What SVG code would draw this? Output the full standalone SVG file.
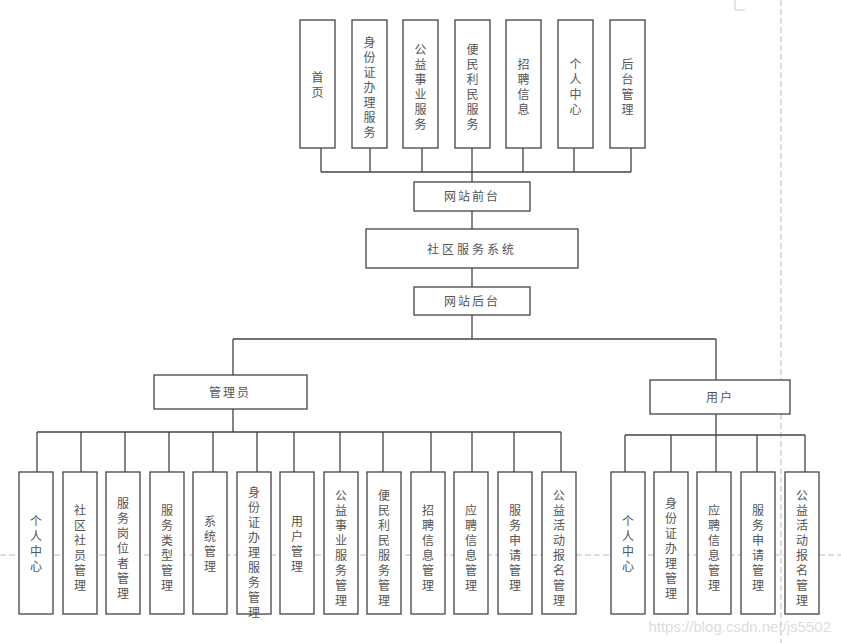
<svg xmlns="http://www.w3.org/2000/svg" width="841" height="643" viewBox="0 0 841 643">
<style>
rect{fill:#fff;stroke:#444;stroke-width:1.3}
.c{fill:none;stroke:#444;stroke-width:1.3}
text{font-family:"Noto Sans CJK SC","Liberation Sans",sans-serif;fill:#555;font-size:12px;text-anchor:middle}
.g{stroke:#bbb;stroke-width:1;stroke-dasharray:6 3;fill:none}
</style>
<rect x="0" y="0" width="841" height="643" style="stroke:none"/>
<path class="g" d="M0 555H841M781 0V643"/>
<path d="M735 0V10M745 10H735" style="stroke:#ccc;fill:none"/>
<g id="connectors">
<path class="c" d="M321 148V172M370 148V172M422 148V172M472 148V182M523 148V172M574 148V172M631 148V172M321 172H631"/>
<path class="c" d="M472 211V229M472 268V287M472 315V339M233 339H716M233 339V375M716 339V380"/>
<path class="c" d="M233 409V432M37 432H561M37 432V472M81 432V472M125 432V472M169 432V472M213 432V472M257 432V472M294 432V472M340 432V472M383 432V472M431 432V472M472 432V472M514 432V472M561 432V472"/>
<path class="c" d="M716 414V472M625 435H805M625 435V472M671 435V472M757 435V472M805 435V472"/>
</g>
<g id="top">
<g id="t1"><rect x="300" y="20" width="35" height="128"/><text x="317.5" y="84" font-size="12"><tspan x="317.5" dy="-2">首</tspan><tspan x="317.5" dy="15">页</tspan></text></g>
<g id="t2"><rect x="352" y="20" width="35" height="128"/><text x="369.5" y="47"><tspan x="369.5">身</tspan><tspan x="369.5" dy="15">份</tspan><tspan x="369.5" dy="15">证</tspan><tspan x="369.5" dy="15">办</tspan><tspan x="369.5" dy="15">理</tspan><tspan x="369.5" dy="15">服</tspan><tspan x="369.5" dy="15">务</tspan></text></g>
<g id="t3"><rect x="403" y="20" width="35" height="128"/><text x="420.5" y="54"><tspan x="420.5">公</tspan><tspan x="420.5" dy="15">益</tspan><tspan x="420.5" dy="15">事</tspan><tspan x="420.5" dy="15">业</tspan><tspan x="420.5" dy="15">服</tspan><tspan x="420.5" dy="15">务</tspan></text></g>
<g id="t4"><rect x="455" y="20" width="35" height="128"/><text x="472.5" y="54"><tspan x="472.5">便</tspan><tspan x="472.5" dy="15">民</tspan><tspan x="472.5" dy="15">利</tspan><tspan x="472.5" dy="15">民</tspan><tspan x="472.5" dy="15">服</tspan><tspan x="472.5" dy="15">务</tspan></text></g>
<g id="t5"><rect x="506" y="20" width="35" height="128"/><text x="523.5" y="69"><tspan x="523.5">招</tspan><tspan x="523.5" dy="15">聘</tspan><tspan x="523.5" dy="15">信</tspan><tspan x="523.5" dy="15">息</tspan></text></g>
<g id="t6"><rect x="558" y="20" width="35" height="128"/><text x="575.5" y="69"><tspan x="575.5">个</tspan><tspan x="575.5" dy="15">人</tspan><tspan x="575.5" dy="15">中</tspan><tspan x="575.5" dy="15">心</tspan></text></g>
<g id="t7"><rect x="610" y="20" width="35" height="128"/><text x="627.5" y="69"><tspan x="627.5">后</tspan><tspan x="627.5" dy="15">台</tspan><tspan x="627.5" dy="15">管</tspan><tspan x="627.5" dy="15">理</tspan></text></g>
</g>
<g id="front"><rect x="414" y="182" width="116" height="29"/><text x="472" y="201" letter-spacing="2">网站前台</text></g>
<g id="system"><rect x="366" y="229" width="212" height="39"/><text x="472" y="254" font-size="16" letter-spacing="3">社区服务系统</text></g>
<g id="back"><rect x="414" y="287" width="116" height="28"/><text x="472" y="306" font-size="13" letter-spacing="2">网站后台</text></g>
<g id="admin"><rect x="154" y="375" width="153" height="34"/><text x="230" y="397" letter-spacing="2">管理员</text></g>
<g id="user"><rect x="650" y="380" width="140" height="34"/><text x="720" y="402" letter-spacing="2">用户</text></g>
<g id="admin-children">
<g id="a1"><rect x="19" y="472" width="34" height="142"/><text x="36" y="526"><tspan x="36">个</tspan><tspan x="36" dy="15">人</tspan><tspan x="36" dy="15">中</tspan><tspan x="36" dy="15">心</tspan></text></g>
<g id="a2"><rect x="63" y="472" width="34" height="142"/><text x="80" y="515"><tspan x="80">社</tspan><tspan x="80" dy="15">区</tspan><tspan x="80" dy="15">社</tspan><tspan x="80" dy="15">员</tspan><tspan x="80" dy="15">管</tspan><tspan x="80" dy="15">理</tspan></text></g>
<g id="a3"><rect x="106" y="472" width="34" height="142"/><text x="123" y="508"><tspan x="123">服</tspan><tspan x="123" dy="15">务</tspan><tspan x="123" dy="15">岗</tspan><tspan x="123" dy="15">位</tspan><tspan x="123" dy="15">者</tspan><tspan x="123" dy="15">管</tspan><tspan x="123" dy="15">理</tspan></text></g>
<g id="a4"><rect x="150" y="472" width="34" height="142"/><text x="167" y="515"><tspan x="167">服</tspan><tspan x="167" dy="15">务</tspan><tspan x="167" dy="15">类</tspan><tspan x="167" dy="15">型</tspan><tspan x="167" dy="15">管</tspan><tspan x="167" dy="15">理</tspan></text></g>
<g id="a5"><rect x="193" y="472" width="34" height="142"/><text x="210" y="526"><tspan x="210">系</tspan><tspan x="210" dy="15">统</tspan><tspan x="210" dy="15">管</tspan><tspan x="210" dy="15">理</tspan></text></g>
<g id="a6"><rect x="237" y="472" width="34" height="142"/><text x="254" y="497"><tspan x="254">身</tspan><tspan x="254" dy="15">份</tspan><tspan x="254" dy="15">证</tspan><tspan x="254" dy="15">办</tspan><tspan x="254" dy="15">理</tspan><tspan x="254" dy="15">服</tspan><tspan x="254" dy="15">务</tspan><tspan x="254" dy="15">管</tspan><tspan x="254" dy="15">理</tspan></text></g>
<g id="a7"><rect x="280" y="472" width="34" height="142"/><text x="297" y="526"><tspan x="297">用</tspan><tspan x="297" dy="15">户</tspan><tspan x="297" dy="15">管</tspan><tspan x="297" dy="15">理</tspan></text></g>
<g id="a8"><rect x="324" y="472" width="34" height="142"/><text x="341" y="500"><tspan x="341">公</tspan><tspan x="341" dy="15">益</tspan><tspan x="341" dy="15">事</tspan><tspan x="341" dy="15">业</tspan><tspan x="341" dy="15">服</tspan><tspan x="341" dy="15">务</tspan><tspan x="341" dy="15">管</tspan><tspan x="341" dy="15">理</tspan></text></g>
<g id="a9"><rect x="367" y="472" width="34" height="142"/><text x="384" y="500"><tspan x="384">便</tspan><tspan x="384" dy="15">民</tspan><tspan x="384" dy="15">利</tspan><tspan x="384" dy="15">民</tspan><tspan x="384" dy="15">服</tspan><tspan x="384" dy="15">务</tspan><tspan x="384" dy="15">管</tspan><tspan x="384" dy="15">理</tspan></text></g>
<g id="a10"><rect x="411" y="472" width="34" height="142"/><text x="428" y="515"><tspan x="428">招</tspan><tspan x="428" dy="15">聘</tspan><tspan x="428" dy="15">信</tspan><tspan x="428" dy="15">息</tspan><tspan x="428" dy="15">管</tspan><tspan x="428" dy="15">理</tspan></text></g>
<g id="a11"><rect x="454" y="472" width="34" height="142"/><text x="471" y="515"><tspan x="471">应</tspan><tspan x="471" dy="15">聘</tspan><tspan x="471" dy="15">信</tspan><tspan x="471" dy="15">息</tspan><tspan x="471" dy="15">管</tspan><tspan x="471" dy="15">理</tspan></text></g>
<g id="a12"><rect x="498" y="472" width="34" height="142"/><text x="515" y="515"><tspan x="515">服</tspan><tspan x="515" dy="15">务</tspan><tspan x="515" dy="15">申</tspan><tspan x="515" dy="15">请</tspan><tspan x="515" dy="15">管</tspan><tspan x="515" dy="15">理</tspan></text></g>
<g id="a13"><rect x="542" y="472" width="34" height="142"/><text x="559" y="500"><tspan x="559">公</tspan><tspan x="559" dy="15">益</tspan><tspan x="559" dy="15">活</tspan><tspan x="559" dy="15">动</tspan><tspan x="559" dy="15">报</tspan><tspan x="559" dy="15">名</tspan><tspan x="559" dy="15">管</tspan><tspan x="559" dy="15">理</tspan></text></g>
</g>
<g id="user-children">
<g id="u1"><rect x="611" y="472" width="34" height="142"/><text x="628" y="526"><tspan x="628">个</tspan><tspan x="628" dy="15">人</tspan><tspan x="628" dy="15">中</tspan><tspan x="628" dy="15">心</tspan></text></g>
<g id="u2"><rect x="654" y="472" width="34" height="142"/><text x="671" y="508"><tspan x="671">身</tspan><tspan x="671" dy="15">份</tspan><tspan x="671" dy="15">证</tspan><tspan x="671" dy="15">办</tspan><tspan x="671" dy="15">理</tspan><tspan x="671" dy="15">管</tspan><tspan x="671" dy="15">理</tspan></text></g>
<g id="u3"><rect x="697" y="472" width="34" height="142"/><text x="714" y="515"><tspan x="714">应</tspan><tspan x="714" dy="15">聘</tspan><tspan x="714" dy="15">信</tspan><tspan x="714" dy="15">息</tspan><tspan x="714" dy="15">管</tspan><tspan x="714" dy="15">理</tspan></text></g>
<g id="u4"><rect x="741" y="472" width="34" height="142"/><text x="758" y="515"><tspan x="758">服</tspan><tspan x="758" dy="15">务</tspan><tspan x="758" dy="15">申</tspan><tspan x="758" dy="15">请</tspan><tspan x="758" dy="15">管</tspan><tspan x="758" dy="15">理</tspan></text></g>
<g id="u5"><rect x="785" y="472" width="34" height="142"/><text x="802" y="500"><tspan x="802">公</tspan><tspan x="802" dy="15">益</tspan><tspan x="802" dy="15">活</tspan><tspan x="802" dy="15">动</tspan><tspan x="802" dy="15">报</tspan><tspan x="802" dy="15">名</tspan><tspan x="802" dy="15">管</tspan><tspan x="802" dy="15">理</tspan></text></g>
</g>
<text x="831" y="632" style="text-anchor:end;font-family:'Liberation Sans',sans-serif;font-size:15px;fill:#ddd">https://blog.csdn.net/js5502</text>
</svg>
